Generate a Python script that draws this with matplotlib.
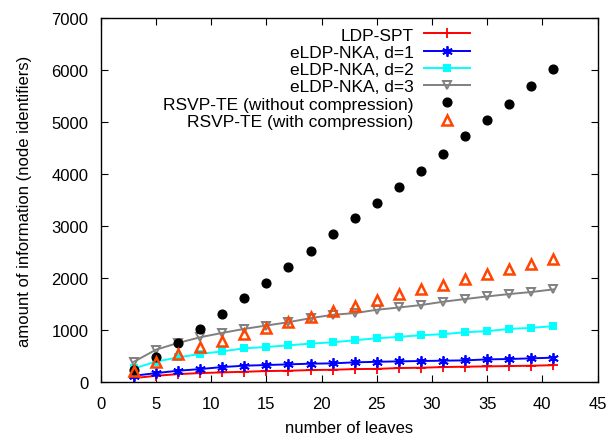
import numpy as np
import matplotlib
matplotlib.use("Agg")
import matplotlib.pyplot as plt

plt.rcParams["font.family"] = ["Liberation Sans", "DejaVu Sans"]

# ---- data ----
leaves = [3, 5, 7, 9, 11, 13, 15, 17, 19, 21, 23, 25, 27, 29, 31, 33, 35, 37, 39, 41]
ldp_spt = [71, 116, 148, 168, 181, 194, 207, 213, 226, 232,
           245, 249, 265, 271, 284, 291, 297, 303, 310, 320]
nka_d1 = [116, 168, 213, 245, 284, 310, 323, 336, 349, 355,
          375, 385, 394, 400, 407, 413, 432, 439, 452, 465]
nka_d2 = [258, 387, 471, 535, 587, 645, 671, 703, 735, 761,
          800, 839, 865, 897, 917, 955, 975, 1019, 1039, 1071]
nka_d3 = [387, 619, 748, 858, 942, 1019, 1084, 1148, 1226, 1290,
          1323, 1387, 1431, 1478, 1542, 1594, 1644, 1690, 1729, 1780]
rsvp_nocomp = [230, 472, 748, 1019, 1310, 1606, 1903, 2212, 2522, 2837,
               3160, 3450, 3747, 4069, 4391, 4739, 5043, 5352, 5706, 6029]
rsvp_comp = [213, 387, 542, 671, 793, 922, 1044, 1148, 1245, 1361,
             1458, 1580, 1683, 1787, 1870, 1981, 2083, 2174, 2271, 2360]

fig = plt.figure(figsize=(6.11, 4.39), dpi=100)
ax = fig.add_axes([0.165, 0.128, 0.813, 0.828])

ax.plot(leaves, ldp_spt, color="#FF0000", lw=1.4, marker="+", ms=7, mew=1.3,
        label="LDP-SPT")
ax.plot(leaves, nka_d1, color="#0000FF", lw=1.4, marker=(6, 2, 0), ms=7.5, mew=1.3,
        label="eLDP-NKA, d=1")
ax.plot(leaves, nka_d2, color="#00FFFF", lw=1.4, marker="s", ms=6.3, mew=0,
        label="eLDP-NKA, d=2")
ax.plot(leaves, nka_d3, color="#808080", lw=1.4, marker="v", ms=6.3, mfc="none", mew=1.4,
        label="eLDP-NKA, d=3")
ax.plot(leaves, rsvp_nocomp, ls="none", color="black", marker="o", ms=6.3,
        label="RSVP-TE (without compression)")
ax.plot(leaves, rsvp_comp, ls="none", color="#FF4500", marker="^", ms=6.5, mfc="none", mew=1.8,
        label="RSVP-TE (with compression)")

ax.set_xlim(0, 45)
ax.set_ylim(0, 7000)
ax.set_xticks(np.arange(0, 46, 5))
ax.set_yticks(np.arange(0, 7001, 1000))
ax.tick_params(direction="in", top=True, right=True, labelsize=12, length=5, width=0.8)
ax.tick_params(axis="x", pad=10)
ax.tick_params(axis="y", pad=9)
for s in ax.spines.values():
    s.set_linewidth(1.0)
ax.set_xlabel("number of leaves", fontsize=12, labelpad=7)
ax.set_ylabel("amount of information (node identifiers)", fontsize=12, labelpad=14)

leg = ax.legend(loc="upper right", bbox_to_anchor=(0.743, 0.975), frameon=False,
                markerfirst=False, fontsize=12.5, handlelength=2.65, handletextpad=0.6,
                labelspacing=0.12, borderaxespad=0, borderpad=0, numpoints=1)

fig.savefig("out.png", dpi=100)
